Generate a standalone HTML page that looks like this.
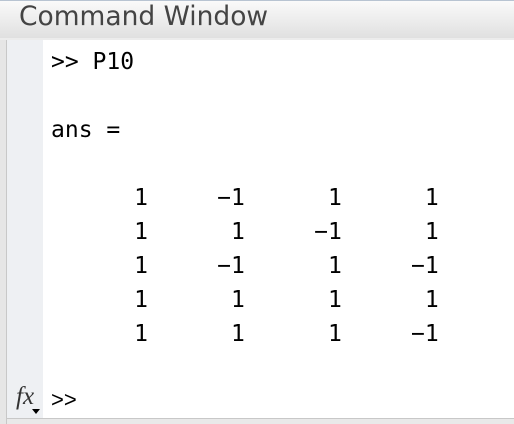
<!DOCTYPE html>
<html><head><style>
body{margin:0;width:514px;height:424px;background:#e9e9e9;position:relative;overflow:hidden;font-family:"DejaVu Sans Mono","Liberation Mono",monospace}
#top{position:absolute;left:0;top:0;width:514px;height:1px;background:#b8c4d2}
#title{position:absolute;left:0;top:1px;width:514px;height:37px;background:linear-gradient(#fafafa,#e0e0e0);border-bottom:2px solid #ececec}
#title span{position:absolute;left:19px;top:0px;font-family:"DejaVu Sans","Liberation Sans",sans-serif;font-size:26.5px;color:#444}
#lb{position:absolute;left:0;top:40px;width:6px;height:384px;background:#e6e6e6;border-right:1px solid #c8c8c8}
#gut{position:absolute;left:7px;top:40px;width:36px;height:378px;background:#eef0f3}
#main{position:absolute;left:43px;top:40px;width:471px;height:378px;background:#fff}
#bot{position:absolute;left:6px;top:418px;width:508px;height:1px;background:#c8c8c8}
.l{position:absolute;left:51px;font-size:23px;white-space:pre;color:#000;line-height:34px}
#fx{position:absolute;left:16px;top:383px;font-family:"Liberation Serif",serif;font-style:italic;font-size:25px;color:#333}
#tri{position:absolute;left:32px;top:409px;width:0;height:0;border-left:4px solid transparent;border-right:4px solid transparent;border-top:5px solid #000}
</style></head><body>
<div id="top"></div>
<div id="title"><span>Command Window</span></div>
<div id="lb"></div><div id="gut"></div><div id="main"></div><div id="bot"></div>
<div class="l" style="top:45px">&gt;&gt; P10</div>
<div class="l" style="top:113px">ans =</div>
<div class="l" style="top:181px">      1     −1      1      1</div>
<div class="l" style="top:215px">      1      1     −1      1</div>
<div class="l" style="top:249px">      1     −1      1     −1</div>
<div class="l" style="top:283px">      1      1      1      1</div>
<div class="l" style="top:317px">      1      1      1     −1</div>
<div class="l" style="top:383px;font-family:'Liberation Sans',sans-serif;font-size:22px">&gt;&gt;</div>
<div id="fx">fx</div><div id="tri"></div>
</body></html>
